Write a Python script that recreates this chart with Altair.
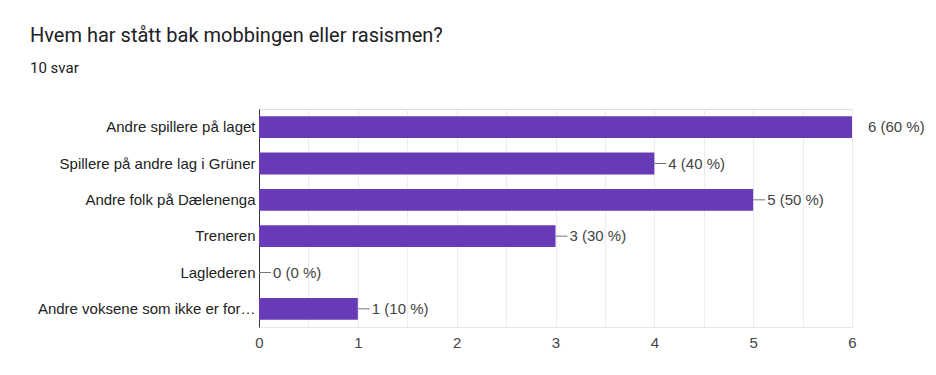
import altair as alt
import pandas as pd

categories = [
    "Andre spillere på laget",
    "Spillere på andre lag i Grüner",
    "Andre folk på Dælenenga",
    "Treneren",
    "Laglederen",
    "Andre voksene som ikke er for…",
]
counts = [6, 4, 5, 3, 0, 1]
total_answers = 10
x_ticks = [0, 0.5, 1, 1.5, 2, 2.5, 3, 3.5, 4, 4.5, 5, 5.5, 6]

df = pd.DataFrame({"cat": categories, "n": counts})
df["label"] = [f"{v} ({round(v * 100 / total_answers)} %)" for v in counts]

FONT = "Liberation Sans"
FS = 15

x = alt.X(
    "n:Q",
    scale=alt.Scale(domain=[0, 6], nice=False),
    axis=alt.Axis(
        values=x_ticks,
        labelExpr="datum.value % 1 === 0 ? format(datum.value, 'd') : ''",
        title=None,
        ticks=False,
        domain=True,
        domainColor="#e6e6e6",
        gridColor="#ececec",
        labelColor="#444444",
        labelFontSize=FS,
        labelFont=FONT,
        labelPadding=8,
        labelFlush=False,
    ),
)
y = alt.Y(
    "cat:N",
    sort=categories,
    scale=alt.Scale(paddingInner=0.4, paddingOuter=0.2),
    axis=alt.Axis(
        title=None,
        ticks=False,
        domain=True,
        domainColor="#333333",
        labelColor="#222222",
        labelFontSize=FS,
        labelFont=FONT,
        labelPadding=4,
        labelLimit=300,
        grid=False,
    ),
)

bars = alt.Chart(df).mark_bar(color="#673ab7").encode(x=x, y=y)

leaders = (
    alt.Chart(df)
    .transform_filter("datum.n < 6")
    .mark_rule(color="#777777", x2Offset=12, strokeWidth=1)
    .encode(x="n:Q", x2="n:Q", y=alt.Y("cat:N", sort=categories))
)

texts_lead = (
    alt.Chart(df)
    .transform_filter("datum.n < 6")
    .mark_text(align="left", baseline="middle", dx=14, font=FONT, fontSize=FS, color="#444444")
    .encode(x="n:Q", y=alt.Y("cat:N", sort=categories), text="label:N")
)
texts_edge = (
    alt.Chart(df)
    .transform_filter("datum.n >= 6")
    .mark_text(align="left", baseline="middle", dx=16, font=FONT, fontSize=FS, color="#444444")
    .encode(x="n:Q", y=alt.Y("cat:N", sort=categories), text="label:N")
)

chart = (
    alt.layer(bars, leaders, texts_lead, texts_edge)
    .properties(
        width=593,
        height=218,
        title=alt.TitleParams(
            text="Hvem har stått bak mobbingen eller rasismen?",
            subtitle=f"{total_answers} svar",
            anchor="start",
            frame="group",
            dx=-229,
            offset=33,
            subtitlePadding=15,
            font="Roboto",
            fontSize=20,
            fontWeight="normal",
            color="#202124",
            subtitleFont="Roboto",
            subtitleFontSize=15,
            subtitleColor="#202124",
        ),
        autosize=alt.AutoSizeParams(type="none"),
        padding={"left": 259, "top": 109, "right": 84, "bottom": 48},
    )
    .configure_view(stroke="#ececec")
    .configure(background="white")
)

chart.save("out.html", embed_options={"renderer": "svg", "actions": False})
